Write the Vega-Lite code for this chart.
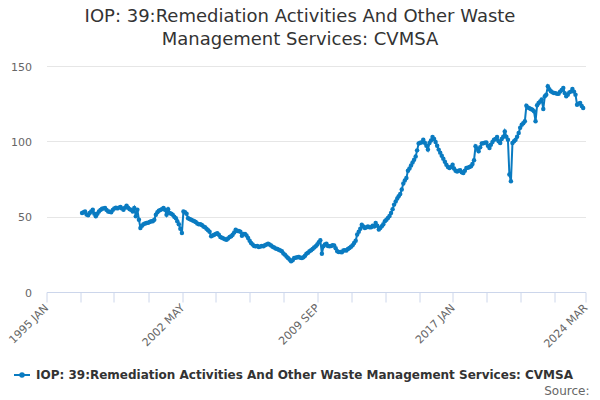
{
  "$schema": "https://vega.github.io/schema/vega-lite/v6.json",
  "autosize": {"type": "none"},
  "width": 539,
  "height": 226,
  "padding": {"left": 46.5, "top": 66, "right": 14.5, "bottom": 108},
  "title": {
    "text": ["IOP: 39:Remediation Activities And Other Waste", "Management Services: CVMSA"],
    "anchor": "middle",
    "dx": -16,
    "offset": 12,
    "font": "DejaVu Sans",
    "fontSize": 18,
    "fontWeight": "normal",
    "color": "#333333",
    "lineHeight": 23
  },
  "data": {
    "values": [
      {"month": "1997-01", "value": 52.4}, {"month": "1997-02", "value": 53}, {"month": "1997-03", "value": 53.5}, {"month": "1997-04", "value": 51.5},
      {"month": "1997-05", "value": 51}, {"month": "1997-06", "value": 52.4}, {"month": "1997-07", "value": 53.5}, {"month": "1997-08", "value": 54.6},
      {"month": "1997-09", "value": 52}, {"month": "1997-10", "value": 50.2}, {"month": "1997-11", "value": 52}, {"month": "1997-12", "value": 53.5},
      {"month": "1998-01", "value": 54.5}, {"month": "1998-02", "value": 55.2}, {"month": "1998-03", "value": 55.5}, {"month": "1998-04", "value": 55.8},
      {"month": "1998-05", "value": 54.5}, {"month": "1998-06", "value": 53.5}, {"month": "1998-07", "value": 53.2}, {"month": "1998-08", "value": 53},
      {"month": "1998-09", "value": 54.5}, {"month": "1998-10", "value": 55.5}, {"month": "1998-11", "value": 56}, {"month": "1998-12", "value": 55.5},
      {"month": "1999-01", "value": 56}, {"month": "1999-02", "value": 56.4}, {"month": "1999-03", "value": 55.5}, {"month": "1999-04", "value": 54.6},
      {"month": "1999-05", "value": 56}, {"month": "1999-06", "value": 57.3}, {"month": "1999-07", "value": 56}, {"month": "1999-08", "value": 55},
      {"month": "1999-09", "value": 54.5}, {"month": "1999-10", "value": 53.5}, {"month": "1999-11", "value": 55.8}, {"month": "1999-12", "value": 50.2},
      {"month": "2000-01", "value": 54.6}, {"month": "2000-02", "value": 48}, {"month": "2000-03", "value": 42.5}, {"month": "2000-04", "value": 44},
      {"month": "2000-05", "value": 45}, {"month": "2000-06", "value": 45.5}, {"month": "2000-07", "value": 45.8}, {"month": "2000-08", "value": 46},
      {"month": "2000-09", "value": 46.5}, {"month": "2000-10", "value": 46.9}, {"month": "2000-11", "value": 47}, {"month": "2000-12", "value": 48},
      {"month": "2001-01", "value": 51.3}, {"month": "2001-02", "value": 53}, {"month": "2001-03", "value": 54}, {"month": "2001-04", "value": 54.5},
      {"month": "2001-05", "value": 55}, {"month": "2001-06", "value": 55.8}, {"month": "2001-07", "value": 54.6}, {"month": "2001-08", "value": 51.3},
      {"month": "2001-09", "value": 55}, {"month": "2001-10", "value": 52.4}, {"month": "2001-11", "value": 52}, {"month": "2001-12", "value": 51.3},
      {"month": "2002-01", "value": 50}, {"month": "2002-02", "value": 49}, {"month": "2002-03", "value": 47}, {"month": "2002-04", "value": 45},
      {"month": "2002-05", "value": 42}, {"month": "2002-06", "value": 39.2}, {"month": "2002-07", "value": 53.5}, {"month": "2002-08", "value": 53},
      {"month": "2002-09", "value": 52}, {"month": "2002-10", "value": 49}, {"month": "2002-11", "value": 48.5}, {"month": "2002-12", "value": 48},
      {"month": "2003-01", "value": 47.5}, {"month": "2003-02", "value": 46.9}, {"month": "2003-03", "value": 46.5}, {"month": "2003-04", "value": 45.5},
      {"month": "2003-05", "value": 45}, {"month": "2003-06", "value": 45}, {"month": "2003-07", "value": 44.5}, {"month": "2003-08", "value": 43.5},
      {"month": "2003-09", "value": 43}, {"month": "2003-10", "value": 42}, {"month": "2003-11", "value": 41}, {"month": "2003-12", "value": 40},
      {"month": "2004-01", "value": 37}, {"month": "2004-02", "value": 37.5}, {"month": "2004-03", "value": 38}, {"month": "2004-04", "value": 38.5},
      {"month": "2004-05", "value": 39}, {"month": "2004-06", "value": 38}, {"month": "2004-07", "value": 36.5}, {"month": "2004-08", "value": 36},
      {"month": "2004-09", "value": 35.5}, {"month": "2004-10", "value": 35}, {"month": "2004-11", "value": 34.7}, {"month": "2004-12", "value": 35.5},
      {"month": "2005-01", "value": 36.5}, {"month": "2005-02", "value": 37}, {"month": "2005-03", "value": 38}, {"month": "2005-04", "value": 39.5},
      {"month": "2005-05", "value": 41.4}, {"month": "2005-06", "value": 40.5}, {"month": "2005-07", "value": 40.5}, {"month": "2005-08", "value": 40},
      {"month": "2005-09", "value": 37.4}, {"month": "2005-10", "value": 38.5}, {"month": "2005-11", "value": 38.5}, {"month": "2005-12", "value": 37.5},
      {"month": "2006-01", "value": 35.8}, {"month": "2006-02", "value": 34}, {"month": "2006-03", "value": 32.5}, {"month": "2006-04", "value": 31.5},
      {"month": "2006-05", "value": 30.5}, {"month": "2006-06", "value": 30.3}, {"month": "2006-07", "value": 30.5}, {"month": "2006-08", "value": 29.9},
      {"month": "2006-09", "value": 30.2}, {"month": "2006-10", "value": 30.5}, {"month": "2006-11", "value": 30.3}, {"month": "2006-12", "value": 31},
      {"month": "2007-01", "value": 31.5}, {"month": "2007-02", "value": 32.1}, {"month": "2007-03", "value": 31.5}, {"month": "2007-04", "value": 30.8},
      {"month": "2007-05", "value": 30}, {"month": "2007-06", "value": 29.5}, {"month": "2007-07", "value": 28.8}, {"month": "2007-08", "value": 28.5},
      {"month": "2007-09", "value": 28}, {"month": "2007-10", "value": 27.5}, {"month": "2007-11", "value": 27}, {"month": "2007-12", "value": 25.5},
      {"month": "2008-01", "value": 24.8}, {"month": "2008-02", "value": 23.5}, {"month": "2008-03", "value": 22.6}, {"month": "2008-04", "value": 21.5},
      {"month": "2008-05", "value": 20.4}, {"month": "2008-06", "value": 21}, {"month": "2008-07", "value": 22.6}, {"month": "2008-08", "value": 22.8},
      {"month": "2008-09", "value": 23}, {"month": "2008-10", "value": 23.2}, {"month": "2008-11", "value": 22.8}, {"month": "2008-12", "value": 22.6},
      {"month": "2009-01", "value": 23}, {"month": "2009-02", "value": 24}, {"month": "2009-03", "value": 25.4}, {"month": "2009-04", "value": 26},
      {"month": "2009-05", "value": 27}, {"month": "2009-06", "value": 27.7}, {"month": "2009-07", "value": 28.5}, {"month": "2009-08", "value": 29.5},
      {"month": "2009-09", "value": 30.3}, {"month": "2009-10", "value": 31.5}, {"month": "2009-11", "value": 33}, {"month": "2009-12", "value": 34.3},
      {"month": "2010-01", "value": 25.4}, {"month": "2010-02", "value": 30.3}, {"month": "2010-03", "value": 31.5}, {"month": "2010-04", "value": 32.1},
      {"month": "2010-05", "value": 30.5}, {"month": "2010-06", "value": 30.3}, {"month": "2010-07", "value": 30.5}, {"month": "2010-08", "value": 31},
      {"month": "2010-09", "value": 30.8}, {"month": "2010-10", "value": 29}, {"month": "2010-11", "value": 27}, {"month": "2010-12", "value": 26.5},
      {"month": "2011-01", "value": 26.5}, {"month": "2011-02", "value": 26.3}, {"month": "2011-03", "value": 27.5}, {"month": "2011-04", "value": 27.7},
      {"month": "2011-05", "value": 27.5}, {"month": "2011-06", "value": 28.5}, {"month": "2011-07", "value": 29.2}, {"month": "2011-08", "value": 30},
      {"month": "2011-09", "value": 31}, {"month": "2011-10", "value": 32.5}, {"month": "2011-11", "value": 34}, {"month": "2011-12", "value": 38.1},
      {"month": "2012-01", "value": 40}, {"month": "2012-02", "value": 42}, {"month": "2012-03", "value": 44.7}, {"month": "2012-04", "value": 43.5},
      {"month": "2012-05", "value": 42.5}, {"month": "2012-06", "value": 43}, {"month": "2012-07", "value": 43.5}, {"month": "2012-08", "value": 42.9},
      {"month": "2012-09", "value": 43}, {"month": "2012-10", "value": 44}, {"month": "2012-11", "value": 43.5}, {"month": "2012-12", "value": 45.8},
      {"month": "2013-01", "value": 44}, {"month": "2013-02", "value": 41.4}, {"month": "2013-03", "value": 42.5}, {"month": "2013-04", "value": 43.6},
      {"month": "2013-05", "value": 45}, {"month": "2013-06", "value": 46.9}, {"month": "2013-07", "value": 48}, {"month": "2013-08", "value": 49.1},
      {"month": "2013-09", "value": 50.5}, {"month": "2013-10", "value": 52.4}, {"month": "2013-11", "value": 55}, {"month": "2013-12", "value": 58},
      {"month": "2014-01", "value": 60}, {"month": "2014-02", "value": 62}, {"month": "2014-03", "value": 63.5}, {"month": "2014-04", "value": 65},
      {"month": "2014-05", "value": 68}, {"month": "2014-06", "value": 72}, {"month": "2014-07", "value": 74}, {"month": "2014-08", "value": 75.7},
      {"month": "2014-09", "value": 80.5}, {"month": "2014-10", "value": 82}, {"month": "2014-11", "value": 84}, {"month": "2014-12", "value": 86},
      {"month": "2015-01", "value": 87.8}, {"month": "2015-02", "value": 90}, {"month": "2015-03", "value": 94}, {"month": "2015-04", "value": 98.5},
      {"month": "2015-05", "value": 99}, {"month": "2015-06", "value": 99.3}, {"month": "2015-07", "value": 101}, {"month": "2015-08", "value": 99},
      {"month": "2015-09", "value": 97}, {"month": "2015-10", "value": 94.5}, {"month": "2015-11", "value": 98.9}, {"month": "2015-12", "value": 100.5},
      {"month": "2016-01", "value": 102.9}, {"month": "2016-02", "value": 101.5}, {"month": "2016-03", "value": 99.5}, {"month": "2016-04", "value": 97},
      {"month": "2016-05", "value": 94.5}, {"month": "2016-06", "value": 92.5}, {"month": "2016-07", "value": 90.5}, {"month": "2016-08", "value": 88.5},
      {"month": "2016-09", "value": 86.5}, {"month": "2016-10", "value": 84.5}, {"month": "2016-11", "value": 83}, {"month": "2016-12", "value": 82.3},
      {"month": "2017-01", "value": 83}, {"month": "2017-02", "value": 84.5}, {"month": "2017-03", "value": 82}, {"month": "2017-04", "value": 80.5},
      {"month": "2017-05", "value": 80}, {"month": "2017-06", "value": 80.5}, {"month": "2017-07", "value": 80.8}, {"month": "2017-08", "value": 79.5},
      {"month": "2017-09", "value": 79}, {"month": "2017-10", "value": 80.5}, {"month": "2017-11", "value": 82.3}, {"month": "2017-12", "value": 82.5},
      {"month": "2018-01", "value": 83}, {"month": "2018-02", "value": 83.5}, {"month": "2018-03", "value": 85}, {"month": "2018-04", "value": 87.5},
      {"month": "2018-05", "value": 96.7}, {"month": "2018-06", "value": 95}, {"month": "2018-07", "value": 93.4}, {"month": "2018-08", "value": 96},
      {"month": "2018-09", "value": 98.5}, {"month": "2018-10", "value": 98.8}, {"month": "2018-11", "value": 99}, {"month": "2018-12", "value": 99.3},
      {"month": "2019-01", "value": 97}, {"month": "2019-02", "value": 95.6}, {"month": "2019-03", "value": 97.8}, {"month": "2019-04", "value": 99.5},
      {"month": "2019-05", "value": 101.1}, {"month": "2019-06", "value": 101.5}, {"month": "2019-07", "value": 102.9}, {"month": "2019-08", "value": 100},
      {"month": "2019-09", "value": 98.9}, {"month": "2019-10", "value": 101.5}, {"month": "2019-11", "value": 103}, {"month": "2019-12", "value": 106.6},
      {"month": "2020-01", "value": 103}, {"month": "2020-02", "value": 101.1}, {"month": "2020-03", "value": 78}, {"month": "2020-04", "value": 73.5},
      {"month": "2020-05", "value": 98.9}, {"month": "2020-06", "value": 100}, {"month": "2020-07", "value": 101.1}, {"month": "2020-08", "value": 103},
      {"month": "2020-09", "value": 105.5}, {"month": "2020-10", "value": 109}, {"month": "2020-11", "value": 111}, {"month": "2020-12", "value": 112},
      {"month": "2021-01", "value": 113.3}, {"month": "2021-02", "value": 123.7}, {"month": "2021-03", "value": 122.5}, {"month": "2021-04", "value": 122},
      {"month": "2021-05", "value": 121.5}, {"month": "2021-06", "value": 121}, {"month": "2021-07", "value": 119.9}, {"month": "2021-08", "value": 113.3},
      {"month": "2021-09", "value": 124}, {"month": "2021-10", "value": 125.4}, {"month": "2021-11", "value": 126.5}, {"month": "2021-12", "value": 127.7},
      {"month": "2022-01", "value": 121.5}, {"month": "2022-02", "value": 129.9}, {"month": "2022-03", "value": 131}, {"month": "2022-04", "value": 136.5},
      {"month": "2022-05", "value": 134.5}, {"month": "2022-06", "value": 133.2}, {"month": "2022-07", "value": 132.5}, {"month": "2022-08", "value": 132.1},
      {"month": "2022-09", "value": 132}, {"month": "2022-10", "value": 131.5}, {"month": "2022-11", "value": 131.6}, {"month": "2022-12", "value": 133},
      {"month": "2023-01", "value": 134}, {"month": "2023-02", "value": 135.4}, {"month": "2023-03", "value": 132}, {"month": "2023-04", "value": 129.9},
      {"month": "2023-05", "value": 131}, {"month": "2023-06", "value": 132.5}, {"month": "2023-07", "value": 133}, {"month": "2023-08", "value": 134.7},
      {"month": "2023-09", "value": 133}, {"month": "2023-10", "value": 131}, {"month": "2023-11", "value": 124.3}, {"month": "2023-12", "value": 125},
      {"month": "2024-01", "value": 125.4}, {"month": "2024-02", "value": 123.5}, {"month": "2024-03", "value": 122.1}
    ]
  },
  "mark": {
    "type": "line",
    "strokeWidth": 2,
    "point": {"filled": true, "size": 20}
  },
  "encoding": {
    "x": {
      "field": "month",
      "type": "temporal",
      "scale": {
        "domain": [
          {"year": 1995, "month": 1, "date": 28, "utc": true},
          {"year": 2024, "month": 4, "date": 16, "utc": true}
        ]
      },
      "axis": {
        "title": "Source:",
        "titleAnchor": "end",
        "titleAlign": "right",
        "titleBaseline": "alphabetic",
        "titleX": 542.5,
        "titleY": 102,
        "titleFont": "DejaVu Sans",
        "titleFontSize": 12,
        "titleFontWeight": "normal",
        "titleColor": "#666666",
        "values": [
          {"year": 1995, "month": 1, "date": 28, "utc": true},
          {"year": 1996, "month": 11, "date": 22, "utc": true},
          {"year": 1998, "month": 9, "date": 25, "utc": true},
          {"year": 2000, "month": 8, "date": 7, "utc": true},
          {"year": 2002, "month": 6, "date": 16, "utc": true},
          {"year": 2004, "month": 4, "date": 4, "utc": true},
          {"year": 2006, "month": 2, "date": 7, "utc": true},
          {"year": 2007, "month": 12, "date": 10, "utc": true},
          {"year": 2009, "month": 10, "date": 7, "utc": true},
          {"year": 2011, "month": 8, "date": 7, "utc": true},
          {"year": 2013, "month": 6, "date": 16, "utc": true},
          {"year": 2015, "month": 4, "date": 16, "utc": true},
          {"year": 2017, "month": 2, "date": 7, "utc": true},
          {"year": 2018, "month": 12, "date": 10, "utc": true},
          {"year": 2020, "month": 10, "date": 13, "utc": true},
          {"year": 2022, "month": 8, "date": 16, "utc": true},
          {"year": 2024, "month": 4, "date": 16, "utc": true}
        ],
        "labelExpr": "utcyear(datum.value) == 1995 ? '1995 JAN' : utcyear(datum.value) == 2002 ? '2002 MAY' : utcyear(datum.value) == 2009 ? '2009 SEP' : utcyear(datum.value) == 2017 ? '2017 JAN' : utcyear(datum.value) == 2024 ? '2024 MAR' : ''",
        "labelAngle": -45,
        "labelAlign": "right",
        "labelBaseline": "middle",
        "labelPadding": 4,
        "labelFlush": false,
        "labelOverlap": false,
        "labelBound": false,
        "labelFont": "DejaVu Sans",
        "labelFontSize": 11,
        "labelColor": "#666666",
        "grid": false,
        "domainColor": "#ccd6eb",
        "tickColor": "#ccd6eb",
        "tickSize": 10
      }
    },
    "y": {
      "field": "value",
      "type": "quantitative",
      "scale": {"domain": [0, 150]},
      "axis": {
        "title": null,
        "values": [0, 50, 100, 150],
        "domain": false,
        "ticks": false,
        "labelPadding": 15,
        "labelOffset": 1,
        "labelFont": "DejaVu Sans",
        "labelFontSize": 11,
        "labelColor": "#666666",
        "gridColor": "#e6e6e6"
      }
    },
    "color": {
      "datum": "IOP: 39:Remediation Activities And Other Waste Management Services: CVMSA",
      "type": "nominal",
      "scale": {"range": ["#0a7bc1"]},
      "legend": {
        "title": null,
        "orient": "none",
        "legendX": -33.5,
        "legendY": 300,
        "symbolType": "M-1,0H1M-0.22,0A0.22,0.22,0,1,1,0.22,0A0.22,0.22,0,1,1,-0.22,0Z",
        "symbolSize": 256,
        "symbolStrokeWidth": 2,
        "symbolFillColor": "#0a7bc1",
        "labelOffset": 5,
        "labelLimit": 600,
        "labelFont": "DejaVu Sans",
        "labelFontSize": 12,
        "labelFontWeight": "bold",
        "labelColor": "#333333"
      }
    }
  },
  "config": {
    "view": {"stroke": null},
    "font": "DejaVu Sans"
  }
}
